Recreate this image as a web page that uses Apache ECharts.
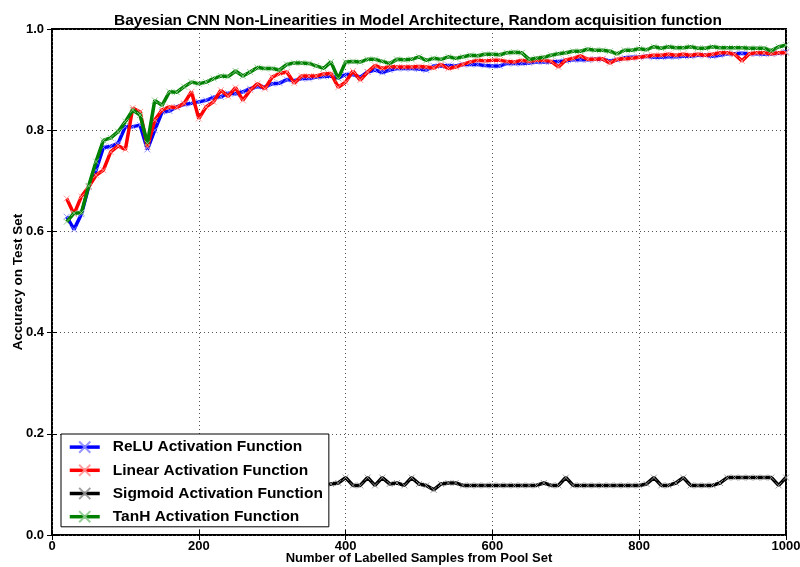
<!DOCTYPE html>
<html>
<head>
<meta charset="utf-8">
<script src="https://cdn.jsdelivr.net/npm/echarts@6/dist/echarts.min.js"></script>
<style>
  html, body { margin: 0; padding: 0; background: #fff; }
  #chart { width: 800px; height: 567px; }
</style>
</head>
<body>
<div id="chart"></div>
<script>
// Number of labelled samples drawn from the pool set
const samples = [
  20, 30, 40, 50, 60, 70, 80, 90, 100, 110,
  120, 130, 140, 150, 160, 170, 180, 190, 200, 210,
  220, 230, 240, 250, 260, 270, 280, 290, 300, 310,
  320, 330, 340, 350, 360, 370, 380, 390, 400, 410,
  420, 430, 440, 450, 460, 470, 480, 490, 500, 510,
  520, 530, 540, 550, 560, 570, 580, 590, 600, 610,
  620, 630, 640, 650, 660, 670, 680, 690, 700, 710,
  720, 730, 740, 750, 760, 770, 780, 790, 800, 810,
  820, 830, 840, 850, 860, 870, 880, 890, 900, 910,
  920, 930, 940, 950, 960, 970, 980, 990, 1000
];

// Test-set accuracy for each activation function
const reluAcc = [
  0.629, 0.604, 0.634, 0.688, 0.721, 0.766, 0.768, 0.774, 0.807, 0.807,
  0.810, 0.762, 0.800, 0.836, 0.838, 0.846, 0.851, 0.853, 0.856, 0.859,
  0.865, 0.866, 0.873, 0.872, 0.876, 0.882, 0.886, 0.885, 0.892, 0.893,
  0.900, 0.898, 0.902, 0.902, 0.905, 0.906, 0.907, 0.903, 0.910, 0.910,
  0.905, 0.915, 0.919, 0.914, 0.919, 0.922, 0.922, 0.922, 0.921, 0.919,
  0.927, 0.927, 0.928, 0.927, 0.930, 0.930, 0.930, 0.928, 0.927, 0.927,
  0.932, 0.932, 0.932, 0.933, 0.935, 0.935, 0.935, 0.936, 0.937, 0.939,
  0.939, 0.939, 0.940, 0.940, 0.937, 0.939, 0.943, 0.944, 0.944, 0.946,
  0.944, 0.944, 0.945, 0.945, 0.946, 0.946, 0.948, 0.948, 0.946, 0.948,
  0.951, 0.951, 0.952, 0.951, 0.951, 0.950, 0.951, 0.952, 0.955
];

const linearAcc = [
  0.665, 0.634, 0.669, 0.688, 0.711, 0.721, 0.757, 0.769, 0.762, 0.844,
  0.836, 0.767, 0.820, 0.840, 0.846, 0.845, 0.853, 0.876, 0.823, 0.846,
  0.856, 0.879, 0.867, 0.884, 0.859, 0.879, 0.892, 0.882, 0.905, 0.912,
  0.915, 0.893, 0.907, 0.907, 0.907, 0.911, 0.912, 0.885, 0.895, 0.917,
  0.899, 0.915, 0.928, 0.922, 0.926, 0.925, 0.925, 0.925, 0.926, 0.925,
  0.923, 0.930, 0.922, 0.925, 0.930, 0.935, 0.938, 0.937, 0.938, 0.938,
  0.936, 0.935, 0.938, 0.936, 0.938, 0.938, 0.936, 0.925, 0.939, 0.942,
  0.947, 0.940, 0.940, 0.941, 0.933, 0.940, 0.941, 0.942, 0.944, 0.946,
  0.948, 0.948, 0.950, 0.948, 0.950, 0.948, 0.950, 0.948, 0.950, 0.953,
  0.953, 0.950, 0.937, 0.951, 0.953, 0.953, 0.951, 0.953, 0.953
];

const sigmoidAcc = [
  0.098, 0.098, 0.1009, 0.098, 0.1135, 0.098, 0.098, 0.1028, 0.098, 0.098,
  0.1135, 0.098, 0.098, 0.098, 0.1009, 0.098, 0.098, 0.098, 0.1135, 0.098,
  0.098, 0.098, 0.1028, 0.098, 0.098, 0.098, 0.1135, 0.098, 0.098, 0.098,
  0.098, 0.1009, 0.098, 0.098, 0.098, 0.098, 0.1009, 0.1028, 0.1135, 0.098,
  0.098, 0.1135, 0.098, 0.1135, 0.1009, 0.1028, 0.098, 0.1135, 0.1009, 0.098,
  0.0892, 0.1009, 0.1028, 0.1028, 0.098, 0.098, 0.098, 0.098, 0.098, 0.098,
  0.098, 0.098, 0.098, 0.098, 0.098, 0.1028, 0.098, 0.098, 0.1135, 0.098,
  0.098, 0.098, 0.098, 0.098, 0.098, 0.098, 0.098, 0.098, 0.098, 0.1009,
  0.1135, 0.098, 0.098, 0.1028, 0.1135, 0.098, 0.098, 0.098, 0.098, 0.1028,
  0.1135, 0.1135, 0.1135, 0.1135, 0.1135, 0.1135, 0.1135, 0.098, 0.1135
];

const tanhAcc = [
  0.619, 0.636, 0.637, 0.690, 0.738, 0.780, 0.785, 0.797, 0.817, 0.840,
  0.830, 0.774, 0.859, 0.849, 0.876, 0.875, 0.886, 0.895, 0.892, 0.895,
  0.902, 0.907, 0.906, 0.917, 0.907, 0.915, 0.924, 0.922, 0.922, 0.919,
  0.930, 0.933, 0.933, 0.932, 0.927, 0.922, 0.935, 0.902, 0.935, 0.936,
  0.935, 0.940, 0.940, 0.936, 0.932, 0.940, 0.939, 0.940, 0.945, 0.938,
  0.942, 0.940, 0.945, 0.942, 0.945, 0.948, 0.947, 0.950, 0.950, 0.949,
  0.953, 0.954, 0.953, 0.940, 0.942, 0.944, 0.948, 0.951, 0.953, 0.956,
  0.956, 0.960, 0.958, 0.958, 0.956, 0.951, 0.958, 0.958, 0.961, 0.959,
  0.965, 0.962, 0.965, 0.963, 0.963, 0.965, 0.962, 0.962, 0.965, 0.963,
  0.963, 0.963, 0.963, 0.962, 0.962, 0.962, 0.957, 0.965, 0.968
];

const seriesNames = [
  'ReLU Activation Function',
  'Linear Activation Function',
  'Sigmoid Activation Function',
  'TanH Activation Function'
];
const lineColors = ['#0000ff', '#ff0000', '#000000', '#008000'];
const markerColors = ['rgba(140,140,255,0.9)', 'rgba(255,150,150,0.9)', 'rgba(150,150,150,0.9)', 'rgba(140,200,140,0.9)'];
const seriesValues = [reluAcc, linearAcc, sigmoidAcc, tanhAcc];

const xTicks = { min: 0, max: 1000, interval: 200 };
const yTicks = { min: 0, max: 1, interval: 0.2 };

const FONT = '"Liberation Sans", Arial, Helvetica, sans-serif';
const CROSS = 'path://M0,0L10,10M10,0L0,10';

const chart = echarts.init(document.getElementById('chart'), null, { renderer: 'canvas' });

const series = seriesNames.map((name, i) => ({
  name: name,
  type: 'line',
  data: samples.map((x, j) => [x, seriesValues[i][j]]),
  symbol: CROSS,
  symbolSize: 6,
  showSymbol: true,
  lineStyle: { color: lineColors[i], width: 3.5 },
  itemStyle: { color: 'none', borderColor: markerColors[i], borderWidth: 1 },
  emphasis: { disabled: true },
  animation: false,
  z: 2 + i
}));

const tickStyle = { show: true, inside: true, length: 5, lineStyle: { color: '#000', width: 1 } };
const gridLine = { show: true, lineStyle: { color: '#555', width: 1, type: [1, 3] } };

chart.setOption({
  backgroundColor: '#fff',
  animation: false,
  title: {
    text: 'Bayesian CNN Non-Linearities in Model Architecture, Random acquisition function',
    left: 413,
    textAlign: 'center',
    top: 8,
    textStyle: { fontFamily: FONT, fontWeight: 'bold', fontSize: 15.5, color: '#000' }
  },
  grid: {
    left: 52, right: 14, top: 29, bottom: 32,
    outerBoundsMode: 'none',
    containLabel: false,
    show: true, borderColor: '#000', borderWidth: 2, backgroundColor: '#fff'
  },
  legend: {
    orient: 'vertical',
    left: 61,
    top: 434,
    padding: [5, 6, 2, 7],
    itemGap: 7,
    itemWidth: 30,
    itemHeight: 14,
    backgroundColor: '#fff',
    borderColor: '#000',
    borderWidth: 1,
    borderRadius: 0,
    lineStyle: { width: 3.5 },
    textStyle: {
      fontFamily: FONT, fontWeight: 'bold', fontSize: 15.5, lineHeight: 14,
      color: '#000', padding: [0, 0, 0, 8]
    },
    data: seriesNames,
    z: 10
  },
  xAxis: [
    {
      type: 'value', position: 'bottom',
      min: xTicks.min, max: xTicks.max, interval: xTicks.interval,
      name: 'Number of Labelled Samples from Pool Set',
      nameLocation: 'middle', nameGap: 17,
      nameMoveOverlap: false,
      nameTextStyle: { fontFamily: FONT, fontWeight: 'bold', fontSize: 13, color: '#000' },
      axisLine: { show: false },
      axisTick: tickStyle,
      axisLabel: {
        fontFamily: FONT, fontWeight: 'bold', fontSize: 13, color: '#000', margin: 5,
        formatter: v => String(v)
      },
      splitLine: gridLine
    },
    {
      type: 'value', position: 'top',
      min: xTicks.min, max: xTicks.max, interval: xTicks.interval,
      axisLine: { show: false },
      axisTick: tickStyle,
      axisLabel: { show: false },
      splitLine: { show: false }
    }
  ],
  yAxis: [
    {
      type: 'value', position: 'left',
      min: yTicks.min, max: yTicks.max, interval: yTicks.interval,
      name: 'Accuracy on Test Set',
      nameLocation: 'middle', nameGap: 27,
      nameMoveOverlap: false,
      nameTextStyle: { fontFamily: FONT, fontWeight: 'bold', fontSize: 13.5, color: '#000' },
      axisLine: { show: false },
      axisTick: tickStyle,
      axisLabel: {
        fontFamily: FONT, fontWeight: 'bold', fontSize: 13, color: '#000', margin: 8,
        formatter: v => v.toFixed(1)
      },
      splitLine: gridLine
    },
    {
      type: 'value', position: 'right',
      min: yTicks.min, max: yTicks.max, interval: yTicks.interval,
      axisLine: { show: false },
      axisTick: tickStyle,
      axisLabel: { show: false },
      splitLine: { show: false }
    }
  ],
  series: series
});
</script>
</body>
</html>
